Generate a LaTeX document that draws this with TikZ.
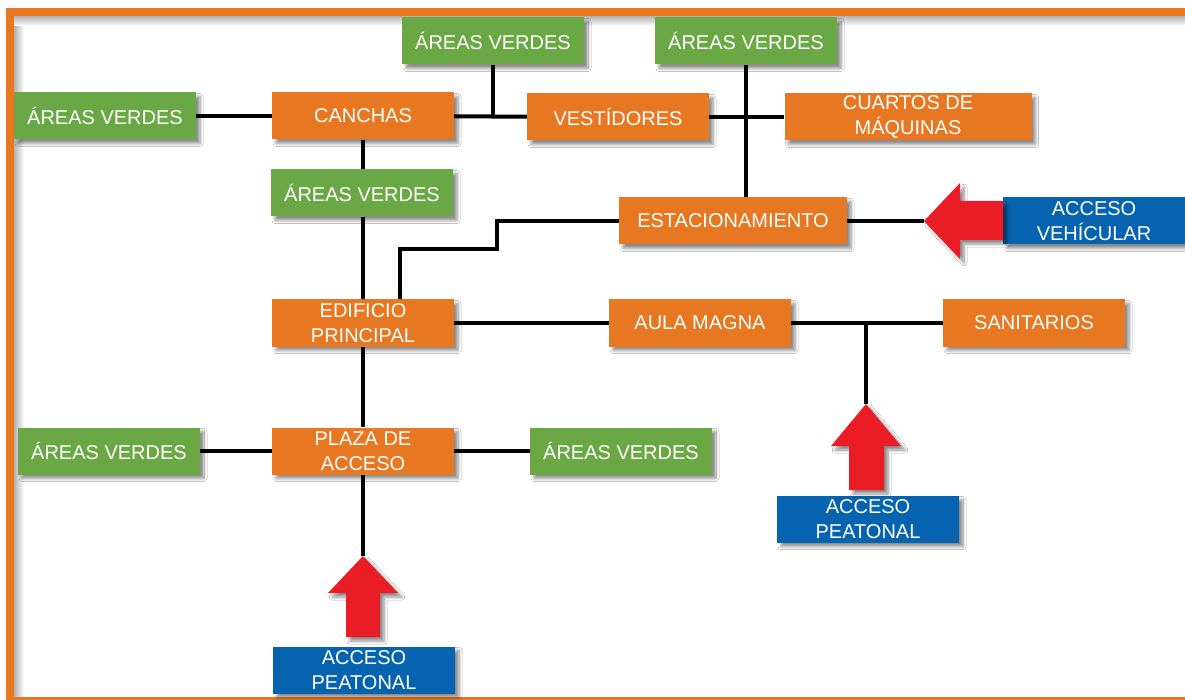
\documentclass[tikz,border=0pt]{standalone}
\usepackage{fontspec}
\setmainfont{Liberation Sans}
\usetikzlibrary{shadows.blur}
\definecolor{corange}{RGB}{232,119,34}
\definecolor{cgreen}{RGB}{106,168,69}
\definecolor{cblue}{RGB}{5,99,176}
\definecolor{cred}{RGB}{234,28,38}
\tikzset{
  shad/.style={blur shadow={shadow xshift=4pt, shadow yshift=-4pt, shadow blur steps=6, shadow blur radius=3pt, shadow opacity=45}},
  box/.style={minimum width=182pt, minimum height=47pt, inner sep=0pt, align=center, text=white,
    font=\fontsize{20}{25}\selectfont, shad},
  orangebox/.style={box, fill=corange},
  greenbox/.style={box, fill=cgreen},
  bluebox/.style={box, fill=cblue},
  link/.style={line width=4pt, black},
  bigarrow/.style={fill=cred, shad}
}
\begin{document}
\begin{tikzpicture}[x=1pt, y=-1pt]
\useasboundingbox (0,0) rectangle (1185,700);
\clip (0,0) rectangle (1185,700);
\fill[white] (0,0) rectangle (1185,700);
% inner shadow of frame
\shade[left color=black!30, right color=white] (14,16) rectangle (24,697);
\shade[top color=black!30, bottom color=white] (14,16) rectangle (1185,26);
\draw[corange, line width=8pt] (10,12) rectangle (1300,701);

% nodes
\node[greenbox] (av1) at (493,41) {ÁREAS VERDES};
\node[greenbox] (av2) at (746,41) {ÁREAS VERDES};
\node[greenbox] (av3) at (105,116) {ÁREAS VERDES};
\node[orangebox] (can) at (363,116) {CANCHAS};
\node[orangebox] (ves) at (618,117) {VESTÍDORES};
\node[orangebox, minimum width=247pt] (cua) at (908,117) {CUARTOS DE\\MÁQUINAS};
\node[greenbox] (av4) at (362,193) {ÁREAS VERDES};
\node[orangebox, minimum width=228pt] (est) at (733,221) {ESTACIONAMIENTO};
\node[bluebox] (vehi) at (1094,221) {ACCESO\\VEHÍCULAR};
\node[orangebox] (edi) at (363,323) {EDIFICIO\\PRINCIPAL};
\node[orangebox] (aul) at (700,323) {AULA MAGNA};
\node[orangebox] (san) at (1034,323) {SANITARIOS};
\node[greenbox] (av5) at (109,451) {ÁREAS VERDES};
\node[orangebox] (pla) at (363,451) {PLAZA DE\\ACCESO};
\node[greenbox] (av6) at (621,451) {ÁREAS VERDES};
\node[bluebox] (ap1) at (364,670) {ACCESO\\PEATONAL};
\node[bluebox] (ap2) at (868,519) {ACCESO\\PEATONAL};

% arrows
\coordinate (t1) at (363,556);
\coordinate (t2) at (866,404);
\coordinate (t3) at (924,221);
\fill[bigarrow] (t1) -- ++(35,37) -- ++(-18,0) -- ++(0,44) -- ++(-34,0) -- ++(0,-44) -- ++(-18,0) -- cycle;
\fill[bigarrow] (t2) -- ++(35,42) -- ++(-17,0) -- ++(0,44) -- ++(-35,0) -- ++(0,-44) -- ++(-18,0) -- cycle;
\fill[bigarrow] (t3) -- ++(36,-38) -- ++(0,18) -- ++(43,0) -- ++(0,39) -- ++(-43,0) -- ++(0,19) -- cycle;

% connectors
\coordinate (j1) at (av1 |- can);
\coordinate (s1) at (497,249);
\draw[link] (av3) -- (can);
\draw[link] (can) -- (ves);
\draw[link] (av1.south) -- (j1);
\draw[link] (ves) -- (cua);
\draw[link] (av2.south) -- (av2 |- est.north);
\draw[link] (can.south) -- (can.south |- av4.north);
\draw[link] (av4.south -| can) -- (edi.north);
\draw[link] (est.west) -| (s1) -| ([xshift=37pt]edi.north);
\draw[link] (edi) -- (aul);
\draw[link] (aul) -- (san);
\draw[link] (t2) -- (t2 |- aul);
\draw[link] (edi) -- (pla);
\draw[link] (av5) -- (pla);
\draw[link] (pla) -- (av6);
\draw[link] (pla.south) -- (t1);
\draw[link] (est.east) -- (t3);
\end{tikzpicture}
\end{document}
